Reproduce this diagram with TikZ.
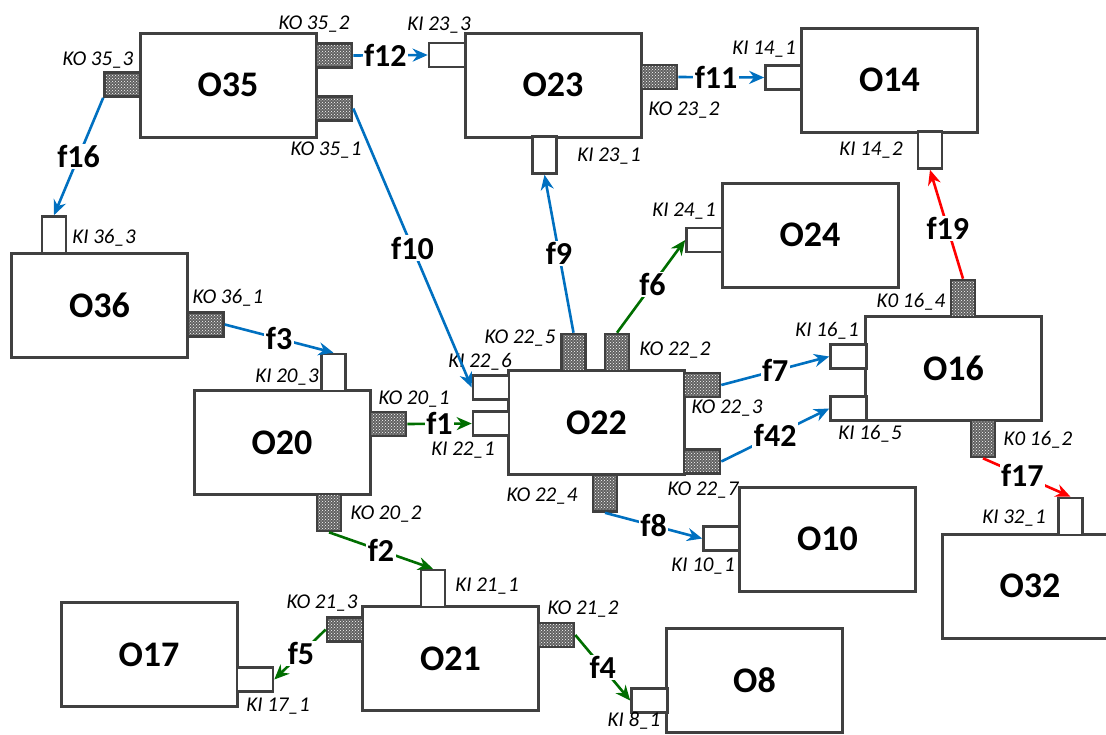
\documentclass[tikz,border=0pt]{standalone}
\usepackage{fontspec}
\setmainfont{Carlito}
\usetikzlibrary{arrows.meta,patterns}
\definecolor{boxgray}{RGB}{64,64,64}
\definecolor{flowblue}{RGB}{0,112,192}
\definecolor{flowgreen}{RGB}{0,110,0}
\definecolor{flowred}{RGB}{255,0,0}

\begin{document}
\begin{tikzpicture}[>={Stealth[length=15pt,width=13pt]}, x=1pt, y=-1pt,
  obj/.style={draw=boxgray, line width=3pt, fill=white, inner sep=0pt,
    minimum width=176pt, minimum height=104pt,
    font=\fontsize{36}{36}\selectfont\bfseries},
  kport/.style={draw=boxgray, line width=2.6pt, inner sep=0pt},
  kin/.style={kport, fill=white},
  kout/.style={kport, preaction={fill=black!62}, pattern=crosshatch dots, pattern color=white},
  hp/.style={minimum width=36pt, minimum height=24pt},
  vp/.style={minimum width=24pt, minimum height=37pt},
  klab/.style={inner sep=0pt, font=\fontsize{21}{21}\selectfont\itshape},
  flab/.style={fill=white, inner sep=1.5pt, font=\fontsize{32}{32}\selectfont\bfseries},
  fblue/.style={->, draw=flowblue, line width=2.6pt},
  fgreen/.style={->, draw=flowgreen, line width=2.6pt},
  fred/.style={->, draw=flowred, line width=2.6pt}]
  \useasboundingbox (0,0) rectangle (1106,734);

  % objects
  \node[obj] (o35) at (228,85) {O35};
  \node[obj] (o23) at (553,85) {O23};
  \node[obj] (o14) at (889.5,80) {O14};
  \node[obj] (o36) at (99.5,305) {O36};
  \node[obj] (o24) at (810,235) {O24};
  \node[obj] (o20) at (282,442.5) {O20};
  \node[obj] (o22) at (596.5,422.5) {O22};
  \node[obj] (o16) at (953.5,368.5) {O16};
  \node[obj] (o10) at (827.5,539) {O10};
  \node[obj] (o32) at (1030,586) {O32};
  \node[obj] (o17) at (149,654.5) {O17};
  \node[obj] (o21) at (450.5,658.5) {O21};
  \node[obj] (o8) at (754.5,680) {O8};

  % output ports
  \node[kout,hp] (ko35-3) at (122.5,84.5) {};
  \node[kout,hp] (ko35-2) at (334,55.5) {};
  \node[kout,hp] (ko35-1) at (334,108.5) {};
  \node[kout,hp] (ko23-2) at (659,77) {};
  \node[kout,hp] (ko36-1) at (205.5,324.5) {};
  \node[kout,hp] (ko20-1) at (388,424) {};
  \node[kout,vp] (ko20-2) at (329,512.5) {};
  \node[kout,vp] (ko22-5) at (573.5,352.5) {};
  \node[kout,vp] (ko22-2) at (617,352.5) {};
  \node[kout,hp] (ko22-3) at (702,385) {};
  \node[kout,hp] (ko22-7) at (702,461.5) {};
  \node[kout,vp] (ko22-4) at (605,493) {};
  \node[kout,vp] (ko16-4) at (963,298.5) {};
  \node[kout,vp] (ko16-2) at (983,438.5) {};
  \node[kout,hp] (ko21-3) at (345,629.5) {};
  \node[kout,hp] (ko21-2) at (556,635) {};

  % input ports
  \node[kin,hp] (ki23-3) at (447,55) {};
  \node[kin,vp] (ki36-3) at (54,235) {};
  \node[kin,vp] (ki23-1) at (544.5,155) {};
  \node[kin,hp] (ki14-1) at (783.5,77.5) {};
  \node[kin,vp] (ki14-2) at (930,150) {};
  \node[kin,hp] (ki24-1) at (704.5,240) {};
  \node[kin,hp] (ki22-6) at (491,387.5) {};
  \node[kin,hp] (ki22-1) at (491,423.5) {};
  \node[kin,vp] (ki20-3) at (333.5,372.5) {};
  \node[kin,hp] (ki16-1) at (848.5,356.5) {};
  \node[kin,hp] (ki16-5) at (848.5,408.5) {};
  \node[kin,vp] (ki32-1) at (1070.5,516.5) {};
  \node[kin,hp] (ki10-1) at (721.5,538.5) {};
  \node[kin,vp] (ki21-1) at (433,588.5) {};
  \node[kin,hp] (ki17-1) at (255,679.5) {};
  \node[kin,hp] (ki8-1) at (649.5,700.5) {};

  % port labels
  \node[klab] (l-ko35-3) at (98,60) {KO 35\_3};
  \node[klab] (l-ko35-2) at (314,24) {KO 35\_2};
  \node[klab] (l-ko35-1) at (326,150) {KO 35\_1};
  \node[klab] (l-ki23-3) at (439,25) {KI 23\_3};
  \node[klab] (l-ki36-3) at (104,238) {KI 36\_3};
  \node[klab] (l-ko23-2) at (684,110) {KO 23\_2};
  \node[klab] (l-ki23-1) at (609,156) {KI 23\_1};
  \node[klab] (l-ki14-1) at (764,49) {KI 14\_1};
  \node[klab] (l-ki14-2) at (871,150) {KI 14\_2};
  \node[klab] (l-ki24-1) at (684,211) {KI 24\_1};
  \node[klab] (l-ko22-5) at (520,338) {KO 22\_5};
  \node[klab] (l-ki22-6) at (480,362) {KI 22\_6};
  \node[klab] (l-ko22-2) at (675,350) {KO 22\_2};
  \node[klab] (l-ko22-3) at (727,408) {KO 22\_3};
  \node[klab] (l-ki22-1) at (463,450) {KI 22\_1};
  \node[klab] (l-ko22-4) at (542,496) {KO 22\_4};
  \node[klab] (l-ko22-7) at (703,490) {KO 22\_7};
  \node[klab] (l-ki16-1) at (827,331) {KI 16\_1};
  \node[klab] (l-ki16-5) at (870,434) {KI 16\_5};
  \node[klab] (l-ko16-4) at (911,302) {K0 16\_4};
  \node[klab] (l-ko16-2) at (1038,440) {K0 16\_2};
  \node[klab] (l-ki32-1) at (1014,518) {KI 32\_1};
  \node[klab] (l-ko36-1) at (228,298) {KO 36\_1};
  \node[klab] (l-ki20-3) at (287,377) {KI 20\_3};
  \node[klab] (l-ko20-1) at (414,399) {KO 20\_1};
  \node[klab] (l-ko20-2) at (386,514) {KO 20\_2};
  \node[klab] (l-ki21-1) at (487,586) {KI 21\_1};
  \node[klab] (l-ko21-3) at (322,603) {KO 21\_3};
  \node[klab] (l-ko21-2) at (583,609) {KO 21\_2};
  \node[klab] (l-ki17-1) at (278,706) {KI 17\_1};
  \node[klab] (l-ki10-1) at (703,566) {KI 10\_1};
  \node[klab] (l-ki8-1) at (634,721) {KI 8\_1};

  % flows
  \draw[fblue] (ko35-3.south west) -- node[flab] {f16} (ki36-3.north);
  \draw[fblue] (ko35-2.east) -- node[flab,pos=0.43] {f12} (ki23-3.west);
  \draw[fblue] (ko35-1.east) -- node[flab] {f10} (ki22-6.west);
  \draw[fblue] (ko23-2.east) -- node[flab,pos=0.44] {f11} (ki14-1.west);
  \draw[fblue] (ko22-5.north) -- node[flab] {f9} (ki23-1.south);
  \draw[fgreen] (ko22-2.north) -- node[flab,pos=0.52] {f6} (ki24-1.west);
  \draw[fblue] (ko22-3.east) -- node[flab] {f7} (ki16-1.west);
  \draw[fblue] (ko22-7.east) -- node[flab] {f42} (ki16-5.west);
  \draw[fblue] (ko22-4.south) -- node[flab] {f8} (ki10-1.west);
  \draw[fred] (ko16-4.north) -- node[flab,pos=0.46] {f19} (ki14-2.south);
  \draw[fred] (ko16-2.south) -- node[flab,pos=0.45] {f17} (ki32-1.north);
  \draw[fblue] (ko36-1.east) -- node[flab] {f3} (ki20-3.north);
  \draw[fgreen] (ko20-1.east) -- node[flab] {f1} (ki22-1.west);
  \draw[fgreen] (ko20-2.south) -- node[flab] {f2} (ki21-1.north);
  \draw[fgreen] (ko21-3.west) -- node[flab,pos=0.48] {f5} (ki17-1.east);
  \draw[fgreen] (ko21-2.east) -- node[flab] {f4} (ki8-1.west);
\end{tikzpicture}
\end{document}
